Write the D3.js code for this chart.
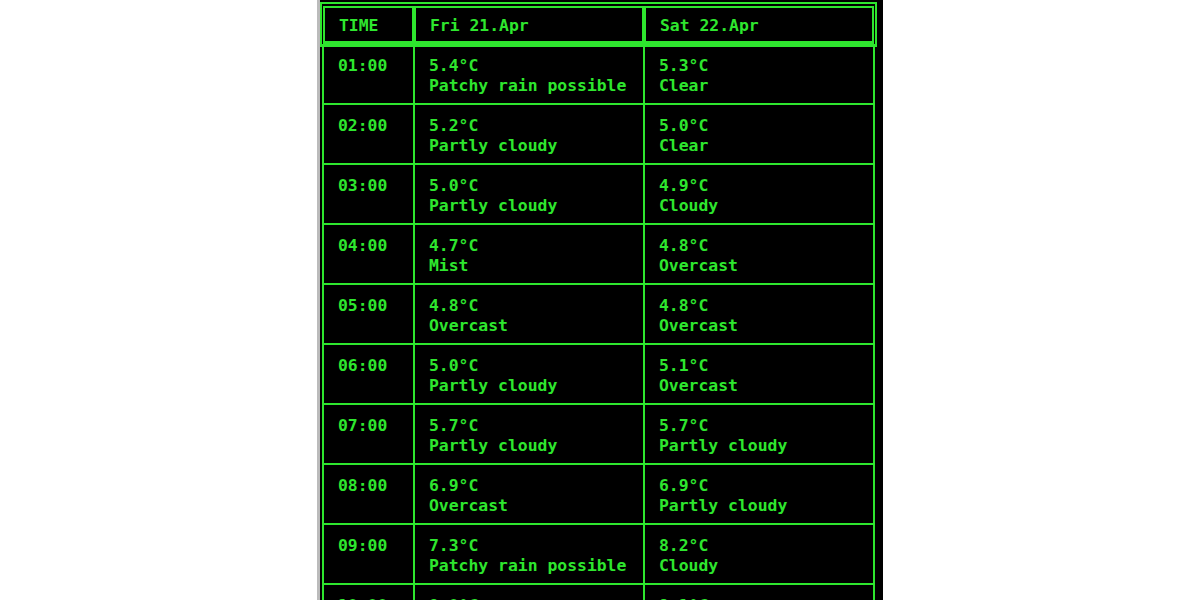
<!DOCTYPE html>
<html><head><meta charset="utf-8">
<script src="https://cdn.jsdelivr.net/npm/d3@7"></script>
<style>body{margin:0;background:#fff}</style>
</head><body>
<script>
// weather table, two days
var days = ["Fri 21.Apr", "Sat 22.Apr"];
var hours = ["01:00","02:00","03:00","04:00","05:00","06:00","07:00","08:00","09:00","10:00"];
var friTemp = [5.4, 5.2, 5.0, 4.7, 4.8, 5.0, 5.7, 6.9, 7.3, 8.0];
var friCond = ["Patchy rain possible","Partly cloudy","Partly cloudy","Mist","Overcast","Partly cloudy","Partly cloudy","Overcast","Patchy rain possible","Partly cloudy"];
var satTemp = [5.3, 5.0, 4.9, 4.8, 4.8, 5.1, 5.7, 6.9, 8.2, 9.1];
var satCond = ["Clear","Clear","Cloudy","Overcast","Overcast","Overcast","Partly cloudy","Partly cloudy","Cloudy","Cloudy"];

var green = "#2ee62e", W = 1200, H = 600;
var svg = d3.select("body").append("svg").attr("width", W).attr("height", H)
  .style("font-family", "'DejaVu Sans Mono', monospace").style("font-size", "16.4px")
  .style("font-weight", "bold");

svg.append("rect").attr("x", 317).attr("y", 0).attr("width", 566).attr("height", H).attr("fill", "#000");
svg.append("rect").attr("x", 317).attr("y", 0).attr("width", 3).attr("height", H).attr("fill", "#bbb");

var cols = [323, 414, 644, 874];
var y = d3.scaleLinear().domain([0, 1]).range([44, 104]); // row index -> top

// header frame
svg.append("rect").attr("x", 321).attr("y", 3).attr("width", 555).attr("height", 43)
  .attr("fill", "none").attr("stroke", green).attr("stroke-width", 2);
var heads = ["TIME"].concat(days);
heads.forEach(function(h, i) {
  svg.append("rect").attr("x", cols[i] + 1).attr("y", 7).attr("width", cols[i + 1] - cols[i] - 2).attr("height", 35)
    .attr("fill", "none").attr("stroke", green).attr("stroke-width", 2);
  svg.append("text").attr("x", cols[i] + 16).attr("y", 31).attr("fill", green).text(h);
});

// body grid
hours.forEach(function(h, r) {
  var top = y(r);
  svg.append("line").attr("x1", cols[0]).attr("x2", cols[3]).attr("y1", top).attr("y2", top)
    .attr("stroke", green).attr("stroke-width", 2);
  var cells = [[h, ""], [friTemp[r].toFixed(1) + "°C", friCond[r]], [satTemp[r].toFixed(1) + "°C", satCond[r]]];
  cells.forEach(function(c, i) {
    svg.append("text").attr("x", cols[i] + 15).attr("y", top + 27).attr("fill", green).text(c[0]);
    if (c[1]) svg.append("text").attr("x", cols[i] + 15).attr("y", top + 47).attr("fill", green).text(c[1]);
  });
});
cols.forEach(function(x) {
  svg.append("line").attr("x1", x).attr("x2", x).attr("y1", 44).attr("y2", H)
    .attr("stroke", green).attr("stroke-width", 2);
});
</script>
</body></html>
